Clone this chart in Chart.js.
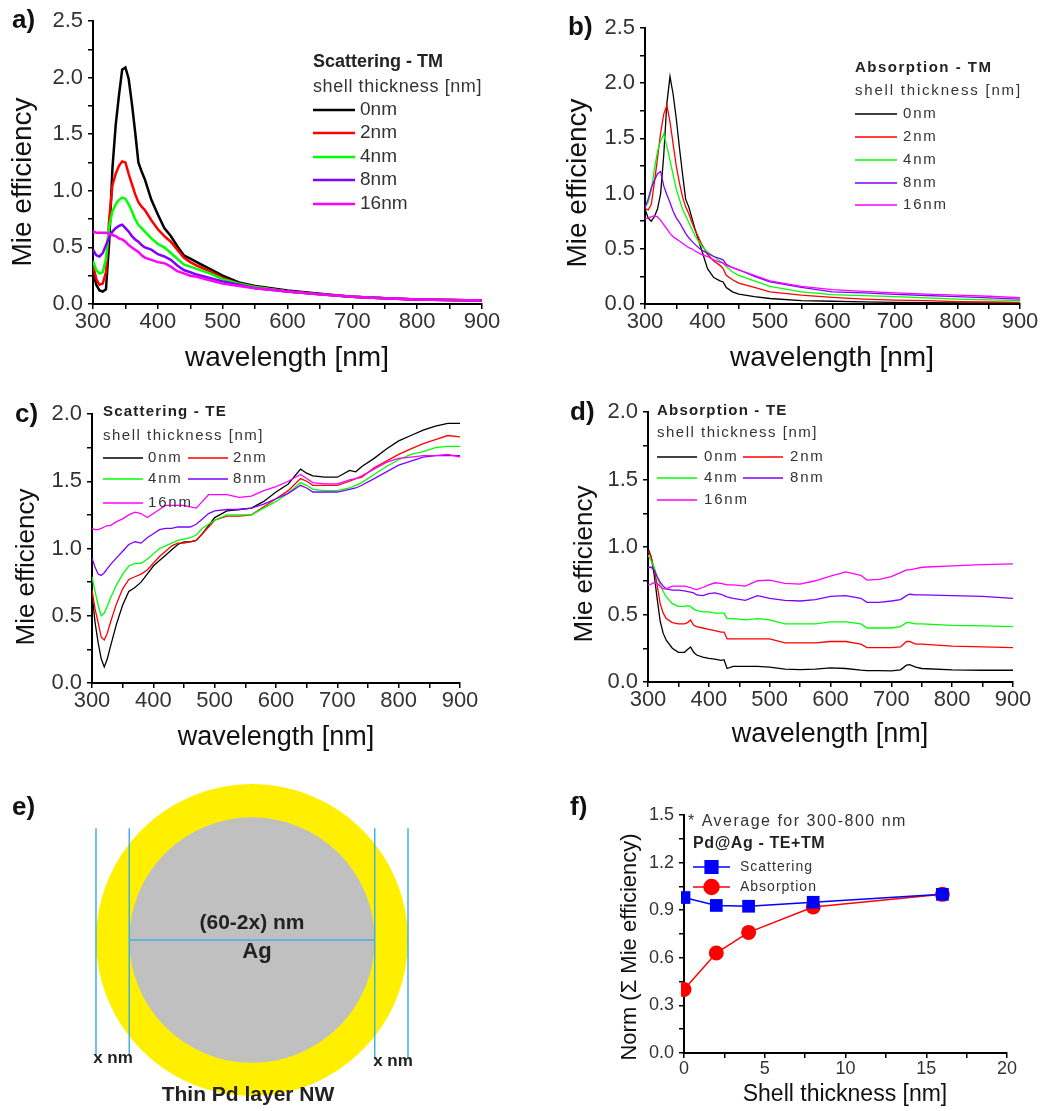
<!DOCTYPE html>
<html>
<head>
<meta charset="utf-8">
<script src="https://cdn.jsdelivr.net/npm/chart.js@4.4.0/dist/chart.umd.min.js"></script>
<style>
  body { margin: 0; background: #fff; }
  #page { position: relative; width: 1045px; height: 1111px; }
  canvas { position: absolute; }
</style>
</head>
<body>
<div id="page">
  <canvas id="scat-tm" width="520" height="380" style="left:0;top:0"></canvas>
  <canvas id="abs-tm" width="525" height="380" style="left:520px;top:0"></canvas>
  <canvas id="scat-te" width="520" height="400" style="left:0;top:380px"></canvas>
  <canvas id="abs-te" width="525" height="400" style="left:520px;top:380px"></canvas>
  <canvas id="wire" width="520" height="331" style="left:0;top:780px"></canvas>
  <canvas id="norm" width="525" height="331" style="left:520px;top:780px"></canvas>
</div>
<script>
// ---- data ----
const shellLabels = ['0nm', '2nm', '4nm', '8nm', '16nm'];
const shellColors = ['#000000', '#ff0000', '#00ff00', '#8000ff', '#ff00ff'];

// a) scattering TM
const wlA = [300,305,310,315,320,325,330,335,340,345,350,355,360,365,370,375,380,390,400,410,420,430,440,450,460,480,500,525,550,600,650,700,750,800,850,900];
const scaTM0 = [0.29,0.17,0.12,0.11,0.13,0.55,1.20,1.58,1.84,2.07,2.09,1.99,1.77,1.52,1.25,1.17,1.10,0.92,0.79,0.67,0.60,0.51,0.43,0.40,0.37,0.31,0.25,0.19,0.16,0.12,0.09,0.065,0.05,0.04,0.035,0.03];
const scaTM2 = [0.35,0.22,0.17,0.18,0.28,0.75,1.05,1.15,1.22,1.26,1.25,1.15,1.06,0.97,0.90,0.86,0.83,0.74,0.66,0.60,0.55,0.48,0.41,0.37,0.34,0.29,0.23,0.18,0.15,0.11,0.085,0.065,0.05,0.04,0.035,0.03];
const scaTM4 = [0.38,0.30,0.27,0.28,0.40,0.68,0.82,0.88,0.92,0.94,0.93,0.88,0.82,0.75,0.70,0.67,0.64,0.58,0.53,0.50,0.45,0.40,0.35,0.33,0.31,0.27,0.22,0.18,0.15,0.11,0.085,0.065,0.05,0.04,0.035,0.03];
const scaTM8 = [0.48,0.43,0.42,0.45,0.52,0.59,0.64,0.67,0.69,0.70,0.67,0.64,0.60,0.57,0.55,0.52,0.50,0.48,0.44,0.42,0.39,0.34,0.30,0.28,0.26,0.23,0.20,0.17,0.14,0.11,0.085,0.065,0.05,0.04,0.035,0.03];
const scaTM16 = [0.64,0.63,0.63,0.63,0.63,0.62,0.61,0.60,0.58,0.57,0.55,0.52,0.50,0.48,0.46,0.43,0.41,0.39,0.37,0.36,0.33,0.29,0.27,0.25,0.24,0.21,0.18,0.16,0.14,0.11,0.085,0.065,0.05,0.04,0.035,0.03];

// b) absorption TM
const wlB = [300,305,310,315,320,325,330,335,340,345,350,355,360,365,370,375,380,390,400,410,420,425,430,440,450,475,500,550,600,650,700,750,800,850,900];
const absTM0 = [0.86,0.78,0.75,0.79,0.86,1.00,1.35,1.82,2.06,1.90,1.68,1.42,1.18,0.95,0.88,0.78,0.68,0.50,0.32,0.24,0.21,0.20,0.15,0.11,0.09,0.066,0.05,0.03,0.025,0.02,0.015,0.012,0.01,0.01,0.01];
const absTM2 = [0.87,0.85,0.90,1.10,1.32,1.55,1.72,1.80,1.65,1.45,1.25,1.10,0.97,0.88,0.82,0.74,0.67,0.55,0.45,0.39,0.35,0.32,0.26,0.22,0.19,0.15,0.11,0.08,0.06,0.045,0.036,0.03,0.022,0.018,0.014];
const absTM4 = [0.88,0.92,1.03,1.22,1.38,1.48,1.54,1.43,1.30,1.17,1.04,0.95,0.86,0.80,0.74,0.68,0.62,0.53,0.47,0.43,0.39,0.37,0.34,0.29,0.26,0.21,0.16,0.11,0.085,0.075,0.066,0.055,0.045,0.038,0.03];
const absTM8 = [0.87,0.95,1.05,1.12,1.18,1.20,1.07,0.99,0.92,0.84,0.78,0.74,0.69,0.64,0.60,0.57,0.54,0.49,0.46,0.43,0.41,0.40,0.36,0.33,0.31,0.25,0.20,0.15,0.11,0.10,0.088,0.077,0.066,0.055,0.045];
const absTM16 = [0.77,0.78,0.79,0.80,0.79,0.76,0.72,0.68,0.64,0.61,0.59,0.57,0.55,0.53,0.51,0.50,0.48,0.45,0.43,0.40,0.38,0.37,0.35,0.33,0.31,0.26,0.21,0.16,0.13,0.115,0.10,0.09,0.08,0.07,0.057];

// c) scattering TE
const wlC = [300,305,310,315,320,325,330,340,350,360,370,380,390,400,410,420,430,440,450,460,470,480,490,500,520,540,560,580,600,620,640,650,660,680,700,720,730,740,760,780,800,820,840,860,880,900];
const scaTE0 = [0.67,0.45,0.30,0.18,0.12,0.18,0.27,0.44,0.58,0.68,0.71,0.75,0.81,0.87,0.91,0.95,0.99,1.03,1.05,1.05,1.06,1.11,1.17,1.23,1.28,1.29,1.30,1.35,1.42,1.48,1.59,1.56,1.54,1.53,1.53,1.58,1.57,1.61,1.67,1.74,1.80,1.84,1.88,1.91,1.93,1.93];
const scaTE2 = [0.69,0.55,0.45,0.34,0.32,0.37,0.45,0.59,0.70,0.77,0.79,0.81,0.84,0.89,0.94,0.98,1.02,1.04,1.04,1.05,1.06,1.11,1.16,1.21,1.24,1.24,1.25,1.31,1.37,1.43,1.52,1.50,1.47,1.47,1.47,1.50,1.52,1.53,1.60,1.65,1.70,1.74,1.78,1.81,1.84,1.83];
const scaTE4 = [0.79,0.68,0.58,0.50,0.52,0.57,0.63,0.73,0.81,0.87,0.89,0.89,0.92,0.96,1.00,1.02,1.04,1.06,1.07,1.08,1.10,1.15,1.18,1.21,1.25,1.25,1.25,1.30,1.35,1.41,1.49,1.47,1.44,1.43,1.43,1.45,1.47,1.49,1.55,1.61,1.66,1.70,1.72,1.75,1.76,1.76];
const scaTE8 = [0.93,0.86,0.81,0.80,0.82,0.85,0.88,0.93,0.98,1.03,1.05,1.04,1.08,1.11,1.14,1.15,1.15,1.16,1.16,1.16,1.18,1.22,1.26,1.28,1.29,1.29,1.30,1.33,1.37,1.41,1.47,1.45,1.42,1.42,1.42,1.44,1.45,1.47,1.52,1.57,1.62,1.65,1.68,1.69,1.69,1.69];
const scaTE16 = [1.15,1.14,1.14,1.15,1.16,1.17,1.17,1.20,1.22,1.25,1.27,1.26,1.23,1.26,1.29,1.32,1.32,1.32,1.32,1.31,1.30,1.35,1.40,1.40,1.40,1.38,1.39,1.43,1.46,1.50,1.55,1.52,1.49,1.48,1.48,1.51,1.52,1.54,1.59,1.64,1.67,1.68,1.69,1.69,1.70,1.68];

// d) absorption TE
const wlD = [300,305,310,315,320,325,330,340,350,360,365,370,375,380,390,400,410,420,425,430,440,460,480,500,525,550,575,600,625,650,660,680,700,715,725,730,740,750,800,850,900];
const absTE0 = [0.99,0.93,0.80,0.62,0.45,0.36,0.31,0.25,0.22,0.22,0.24,0.26,0.22,0.20,0.185,0.175,0.17,0.16,0.165,0.10,0.116,0.116,0.116,0.11,0.095,0.092,0.095,0.105,0.10,0.088,0.085,0.085,0.082,0.09,0.125,0.128,0.11,0.10,0.09,0.087,0.087];
const absTE2 = [0.97,0.93,0.84,0.72,0.58,0.51,0.47,0.44,0.43,0.43,0.44,0.46,0.42,0.41,0.40,0.39,0.38,0.37,0.37,0.32,0.32,0.32,0.32,0.32,0.29,0.29,0.29,0.30,0.30,0.28,0.255,0.255,0.255,0.26,0.30,0.30,0.28,0.28,0.265,0.26,0.255];
const absTE4 = [0.94,0.90,0.85,0.78,0.72,0.67,0.63,0.58,0.56,0.56,0.565,0.56,0.54,0.53,0.52,0.52,0.51,0.51,0.51,0.47,0.47,0.46,0.47,0.46,0.43,0.43,0.43,0.445,0.445,0.43,0.40,0.40,0.40,0.41,0.44,0.44,0.43,0.43,0.42,0.415,0.41];
const absTE8 = [0.85,0.85,0.83,0.78,0.74,0.71,0.69,0.68,0.68,0.675,0.67,0.665,0.66,0.645,0.64,0.655,0.66,0.65,0.64,0.63,0.62,0.605,0.64,0.62,0.605,0.60,0.61,0.635,0.64,0.62,0.59,0.59,0.60,0.61,0.64,0.65,0.645,0.645,0.64,0.635,0.62];
const absTE16 = [0.72,0.725,0.735,0.73,0.71,0.69,0.69,0.71,0.71,0.71,0.705,0.70,0.69,0.685,0.70,0.72,0.735,0.73,0.725,0.72,0.72,0.71,0.75,0.755,0.73,0.725,0.75,0.785,0.815,0.79,0.755,0.76,0.78,0.81,0.83,0.83,0.84,0.85,0.86,0.87,0.875];

// e) core/shell sketch, nm
const wireDiameter = [60];
const shellX = [6.4];
const guideSpan = [21.5, -22];

// f) normalised averages
const shellNm = [0, 2, 4, 8, 16];
const scatNorm = [0.98, 0.93, 0.925, 0.95, 1.0];
const absNorm = [0.40, 0.63, 0.76, 0.92, 1.0];

// ---- shared look ----
const FONT = "'Liberation Sans', Arial, sans-serif";
Chart.defaults.font.family = FONT;
Chart.defaults.animation = false;

function onStep(v, step) {
  return Math.abs(v / step - Math.round(v / step)) < 1e-6;
}

//Origin style axis: only the line, outward ticks, labels on major steps
function axis(min, max, step, labelStep, fmt, size, pad, fit) {
  return {
    type: 'linear', min: min, max: max,
    ticks: {
      stepSize: step, autoSkip: false, maxRotation: 0, color: '#333', padding: pad,
      font: { size: size },
      callback: v => onStep(v, labelStep) ? fmt(v) : ''
    },
    grid: { drawOnChartArea: false, drawTicks: true, tickLength: 5, color: '#000', lineWidth: 1.5 },
    border: { display: true, color: '#000', width: 2 },
    afterFit: fit
  };
}

function wlScales(yMax, yW, xH) {
  return {
    x: axis(300, 900, 50, 100, v => v, 22, 0, s => { s.height = xH; s.paddingLeft = 0; s.paddingRight = 0; }),
    y: axis(0, yMax, 0.25, 0.5, v => v.toFixed(1), 22, 5, s => { s.width = yW; s.paddingTop = 0; s.paddingBottom = 0; })
  };
}

function curves(wl, series, width) {
  return series.map((vals, i) => ({
    label: shellLabels[i],
    data: wl.map((w, j) => ({ x: w, y: vals[j] })),
    borderColor: shellColors[i],
    backgroundColor: shellColors[i],
    borderWidth: width,
    pointRadius: 0,
    tension: 0,
    fill: false,
    order: series.length - i
  }));
}

//free text (panel letters, axis titles, legend headers)
const panelText = {
  id: 'panelText',
  afterDraw(chart, args, opts) {
    const ctx = chart.ctx;
    (opts.items || []).forEach(t => {
      ctx.save();
      ctx.font = t.font + ' ' + FONT;
      ctx.fillStyle = t.color || '#111';
      ctx.letterSpacing = t.spacing || '0px';
      ctx.textAlign = t.align || 'left';
      ctx.textBaseline = 'middle';
      ctx.translate(t.x, t.y);
      if (t.rotate) ctx.rotate(t.rotate);
      ctx.fillText(t.text, 0, 0);
      ctx.restore();
    });
  }
};

//legend entries placed inside the plot like Origin does
const originLegend = {
  id: 'originLegend',
  afterDraw(chart, args, o) {
    if (!o.spots) return;
    const ctx = chart.ctx;
    chart.data.datasets.forEach((ds, i) => {
      const x = o.spots[i][0], y = o.spots[i][1];
      ctx.save();
      ctx.strokeStyle = ds.borderColor;
      ctx.lineWidth = ds.borderWidth;
      ctx.beginPath();
      ctx.moveTo(x, y);
      ctx.lineTo(x + o.lineLen, y);
      ctx.stroke();
      if (ds.pointRadius) {
        ctx.fillStyle = ds.backgroundColor;
        Chart.helpers.drawPoint(ctx, { pointStyle: ds.pointStyle, radius: ds.pointRadius, borderWidth: 1, rotation: 0 }, x + o.lineLen / 2, y);
      }
      ctx.font = o.font + ' ' + FONT;
      ctx.letterSpacing = o.spacing || '0px';
      ctx.fillStyle = '#333';
      ctx.textBaseline = 'middle';
      ctx.fillText(ds.label, x + o.lineLen + o.gap, y);
      ctx.restore();
    });
  }
};
Chart.register(panelText, originLegend);

const ROT = -Math.PI / 2;

// a) Scattering - TM
new Chart(document.getElementById('scat-tm'), {
  type: 'line',
  data: { datasets: curves(wlA, [scaTM0, scaTM2, scaTM4, scaTM8, scaTM16], 2.5) },
  options: {
    responsive: false,
    layout: { padding: { top: 21, right: 38 } },
    scales: wlScales(2.5, 93, 76),
    plugins: {
      legend: { display: false }, tooltip: { enabled: false },
      originLegend: { spots: [[313, 110], [313, 133], [313, 157], [313, 180], [313, 204]], lineLen: 42, gap: 5, font: '19px' },
      panelText: { items: [
        { text: 'a)', x: 12, y: 21, font: 'bold 26px' },
        { text: 'Mie efficiency', x: 23, y: 182, font: '28px', rotate: ROT, align: 'center' },
        { text: 'wavelength [nm]', x: 287, y: 358, font: '28px', align: 'center' },
        { text: 'Scattering - TM', x: 313, y: 62, font: 'bold 18px', color: '#222' },
        { text: 'shell thickness [nm]', x: 313, y: 87, font: '18px', spacing: '0.6px', color: '#333' }
      ] }
    }
  }
});

// b) Absorption - TM
new Chart(document.getElementById('abs-tm'), {
  type: 'line',
  data: { datasets: curves(wlB, [absTM0, absTM2, absTM4, absTM8, absTM16], 1.3) },
  options: {
    responsive: false,
    layout: { padding: { top: 28, right: 25 } },
    scales: wlScales(2.5, 125, 76),
    plugins: {
      legend: { display: false }, tooltip: { enabled: false },
      originLegend: { spots: [[335, 114], [335, 137], [335, 160], [335, 183], [335, 205]], lineLen: 42, gap: 6, font: '15px', spacing: '1.8px' },
      panelText: { items: [
        { text: 'b)', x: 48, y: 28, font: 'bold 26px' },
        { text: 'Mie efficiency', x: 58, y: 183, font: '28px', rotate: ROT, align: 'center' },
        { text: 'wavelength [nm]', x: 312, y: 358, font: '28px', align: 'center' },
        { text: 'Absorption - TM', x: 335, y: 68, font: 'bold 15px', spacing: '1.5px', color: '#222' },
        { text: 'shell thickness [nm]', x: 335, y: 91, font: '15px', spacing: '1.8px', color: '#333' }
      ] }
    }
  }
});

// c) Scattering - TE
new Chart(document.getElementById('scat-te'), {
  type: 'line',
  data: { datasets: curves(wlC, [scaTE0, scaTE2, scaTE4, scaTE8, scaTE16], 1.3) },
  options: {
    responsive: false,
    layout: { padding: { top: 34, right: 60 } },
    scales: wlScales(2.0, 92, 97),
    plugins: {
      legend: { display: false }, tooltip: { enabled: false },
      originLegend: { spots: [[103, 78], [188, 78], [103, 99], [188, 99], [103, 123]], lineLen: 40, gap: 5, font: '15px', spacing: '1.8px' },
      panelText: { items: [
        { text: 'c)', x: 15, y: 35, font: 'bold 26px' },
        { text: 'Mie efficiency', x: 27, y: 187, font: '26px', rotate: ROT, align: 'center' },
        { text: 'wavelength [nm]', x: 276, y: 358, font: '27px', align: 'center' },
        { text: 'Scattering - TE', x: 103, y: 32, font: 'bold 15px', spacing: '1.2px', color: '#222' },
        { text: 'shell thickness [nm]', x: 103, y: 56, font: '15px', spacing: '1.5px', color: '#333' }
      ] }
    }
  }
});

// d) Absorption - TE
new Chart(document.getElementById('abs-te'), {
  type: 'line',
  data: { datasets: curves(wlD, [absTE0, absTE2, absTE4, absTE8, absTE16], 1.3) },
  options: {
    responsive: false,
    layout: { padding: { top: 32, right: 32 } },
    scales: wlScales(2.0, 128, 98),
    plugins: {
      legend: { display: false }, tooltip: { enabled: false },
      originLegend: { spots: [[137, 77], [223, 77], [137, 98], [223, 98], [137, 120]], lineLen: 40, gap: 7, font: '15px', spacing: '1.8px' },
      panelText: { items: [
        { text: 'd)', x: 50, y: 33, font: 'bold 26px' },
        { text: 'Mie efficiency', x: 65, y: 184, font: '26px', rotate: ROT, align: 'center' },
        { text: 'wavelength [nm]', x: 310, y: 355, font: '27px', align: 'center' },
        { text: 'Absorption - TE', x: 137, y: 31, font: 'bold 15px', spacing: '1.2px', color: '#222' },
        { text: 'shell thickness [nm]', x: 137, y: 53, font: '15px', spacing: '1.5px', color: '#333' }
      ] }
    }
  }
});

// e) sketch of the Pd@Ag nanowire cross section
const wireCircles = {
  id: 'wireCircles',
  beforeDatasetsDraw(chart) {
    const ctx = chart.ctx, sx = chart.scales.x, sy = chart.scales.y;
    const cx = sx.getPixelForValue(0), cy = sy.getPixelForValue(0);
    const rOuter = sx.getPixelForValue(wireDiameter[0] / 2) - cx;
    const rCore = sx.getPixelForValue(wireDiameter[0] / 2 - shellX[0]) - cx;
    ctx.save();
    ctx.fillStyle = '#fff000';
    ctx.beginPath(); ctx.arc(cx, cy, rOuter, 0, Math.PI * 2); ctx.fill();
    ctx.fillStyle = '#c0c0c0';
    ctx.beginPath(); ctx.arc(cx, cy, rCore, 0, Math.PI * 2); ctx.fill();
    ctx.restore();
  }
};

const rOut = wireDiameter[0] / 2;
const rIn = rOut - shellX[0];
function guide(x1, y1, x2, y2) {
  return { data: [{ x: x1, y: y1 }, { x: x2, y: y2 }], showLine: true, borderColor: '#45b0e0', borderWidth: 1.5, pointRadius: 0 };
}

new Chart(document.getElementById('wire'), {
  type: 'scatter',
  data: { datasets: [
    guide(-rOut, guideSpan[0], -rOut, guideSpan[1]),
    guide(-rIn, guideSpan[0], -rIn, guideSpan[1]),
    guide(rIn, guideSpan[0], rIn, guideSpan[1] - 1),
    guide(rOut, guideSpan[0], rOut, guideSpan[1] - 1),
    guide(-rIn, 0, rIn, 0)
  ] },
  options: {
    responsive: false,
    layout: { padding: 0 },
    scales: {
      x: { display: false, min: -48.46, max: 51.54 },
      y: { display: false, min: -32.88, max: 30.77 }
    },
    plugins: {
      legend: { display: false }, tooltip: { enabled: false },
      panelText: { items: [
        { text: 'e)', x: 12, y: 28, font: 'bold 26px' },
        { text: '(60-2x) nm', x: 252, y: 143, font: 'bold 21px', align: 'center', color: '#222' },
        { text: 'Ag', x: 257, y: 172, font: 'bold 22px', align: 'center', color: '#222' },
        { text: 'x nm', x: 113, y: 278, font: 'bold 17px', align: 'center', color: '#222' },
        { text: 'x nm', x: 393, y: 281, font: 'bold 17px', align: 'center', color: '#222' },
        { text: 'Thin Pd layer NW', x: 248, y: 315, font: 'bold 21px', align: 'center', color: '#222' }
      ] }
    }
  },
  plugins: [wireCircles]
});

// f) normalised average vs shell thickness
new Chart(document.getElementById('norm'), {
  type: 'line',
  data: { datasets: [
    { label: 'Scattering', data: shellNm.map((s, i) => ({ x: s, y: scatNorm[i] })),
      borderColor: '#0000ff', backgroundColor: '#0000ff', borderWidth: 1.5,
      pointStyle: 'rect', pointRadius: 9, pointBorderWidth: 0, tension: 0,
      clip: { left: 3, top: 20, right: 20, bottom: 20 } },
    { label: 'Absorption', data: shellNm.map((s, i) => ({ x: s, y: absNorm[i] })),
      borderColor: '#ff0000', backgroundColor: '#ff0000', borderWidth: 1.5,
      pointStyle: 'circle', pointRadius: 7.5, pointBorderWidth: 0, tension: 0,
      clip: { left: 3, top: 20, right: 20, bottom: 20 } }
  ] },
  options: {
    responsive: false,
    layout: { padding: { top: 35, right: 38 } },
    scales: {
      x: axis(0, 20, 2.5, 5, v => v, 18, 0, s => { s.height = 58; s.paddingLeft = 0; s.paddingRight = 0; }),
      y: axis(0, 1.5, 0.15, 0.3, v => v.toFixed(1), 18, 5, s => { s.width = 164; s.paddingTop = 0; s.paddingBottom = 0; })
    },
    plugins: {
      legend: { display: false }, tooltip: { enabled: false },
      originLegend: { spots: [[173, 87], [173, 107]], lineLen: 37, gap: 10, font: '14px', spacing: '1px' },
      panelText: { items: [
        { text: 'f)', x: 50, y: 28, font: 'bold 26px' },
        { text: 'Norm (\u03A3 Mie efficiency)', x: 110, y: 167, font: '22px', rotate: ROT, align: 'center' },
        { text: 'Shell thickness [nm]', x: 325, y: 315, font: '23px', align: 'center' },
        { text: '* Average for 300-800 nm', x: 168, y: 42, font: '16px', spacing: '1.5px', color: '#333' },
        { text: 'Pd@Ag - TE+TM', x: 173, y: 64, font: 'bold 16px', spacing: '0.6px', color: '#222' }
      ] }
    }
  }
});
</script>
</body>
</html>
